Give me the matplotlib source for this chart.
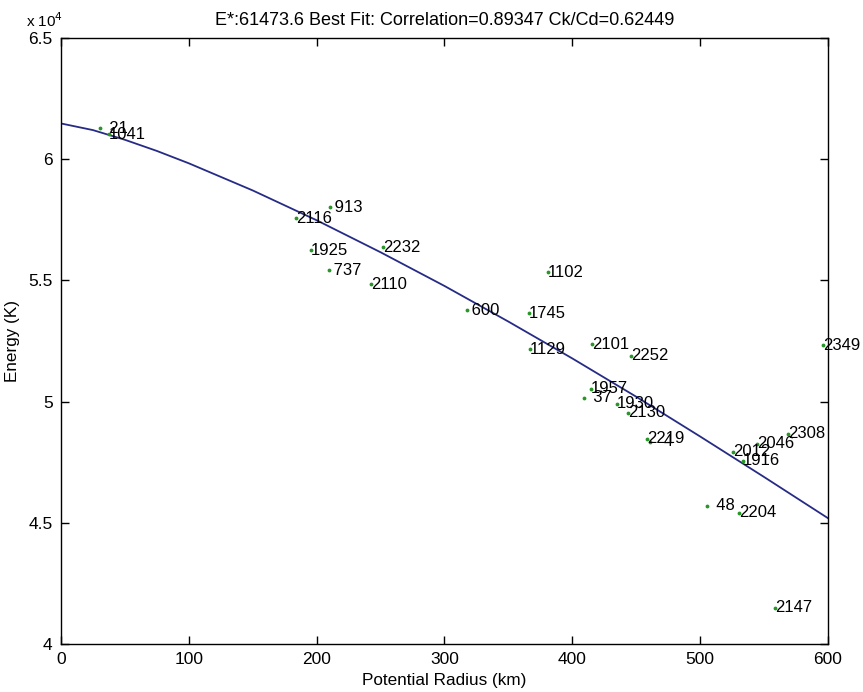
import numpy as np
import matplotlib
matplotlib.use("Agg")
import matplotlib.pyplot as plt
from matplotlib.ticker import FuncFormatter, MultipleLocator
from matplotlib.transforms import offset_copy

plt.rcParams['font.family'] = ['Liberation Sans', 'DejaVu Sans']

# storm ids, potential radius (km) and energy (K)
storm_ids = [21, 1041, 913, 2116, 1925, 737, 2232, 2110, 600, 1102,
             1745, 1129, 2101, 2252, 1957, 37, 1930, 2130, 2219, 4,
             2012, 1916, 2046, 2308, 48, 2204, 2147, 2349]
radius = [30.5, 37.6, 210.4, 183.8, 195.6, 209.7, 251.9, 242.5, 317.6, 381.0,
          366.1, 366.9, 415.4, 445.9, 414.6, 409.1, 435.0, 443.6, 458.4, 460.8,
          525.7, 533.5, 544.5, 568.7, 505.4, 530.4, 558.6, 596.0]
energy = [61281, 61033, 58017, 57562, 56240, 55413, 56364, 54835, 53760, 55331,
          53636, 52149, 52355, 51901, 50537, 50165, 49917, 49545, 48471, 48347,
          47934, 47562, 48264, 48678, 45702, 45413, 41488, 52314]

# best fit curve
fit_radius = [0, 25, 50, 75, 100, 150, 200, 250, 300, 350, 400, 450, 500, 550, 600]
fit_energy = [61474, 61200, 60800, 60340, 59830, 58710, 57480, 56160, 54770,
              53300, 51780, 50200, 48560, 46890, 45190]

e_star = 61473.6
corr = 0.89347
ck_cd = 0.62449

fig = plt.figure(figsize=(8.63, 6.92), dpi=100)
ax = fig.add_axes([0.0707, 0.0694, 0.8887, 0.8757])

ax.plot(fit_radius, fit_energy, color='#262b86', lw=1.3)
ax.plot(radius, energy, '.', color='#2a962a', ms=3.5)
for sid, r, e in zip(storm_ids, radius, energy):
    ax.text(r, e, str(sid).rjust(4), fontsize=12, ha='left', va='center')

ax.set_xlim(0, 600)
ax.set_ylim(40000, 65000)
ax.xaxis.set_major_locator(MultipleLocator(100))
ax.yaxis.set_major_locator(MultipleLocator(5000))
ax.yaxis.set_major_formatter(FuncFormatter(lambda v, p: '%g' % (v / 1e4)))
ax.tick_params(direction='in', top=True, right=True, length=6, width=1,
               labelsize=12.5, pad=6)
for s in ax.spines.values():
    s.set_linewidth(1.0)

ax.set_xlabel('Potential Radius (km)', fontsize=12.3, labelpad=4)
ax.set_ylabel('Energy (K)', fontsize=12.3, labelpad=6)
ax.set_title('E*:%.1f Best Fit: Correlation=%.5f Ck/Cd=%.5f' % (e_star, corr, ck_cd),
             fontsize=13, pad=9)
ax.text(0, 1.0, r'x 10$^4$', fontsize=11, ha='center', va='bottom',
        transform=offset_copy(ax.transAxes, fig=fig, x=-16, y=8, units='dots'))

fig.savefig('out.png', dpi=100)
